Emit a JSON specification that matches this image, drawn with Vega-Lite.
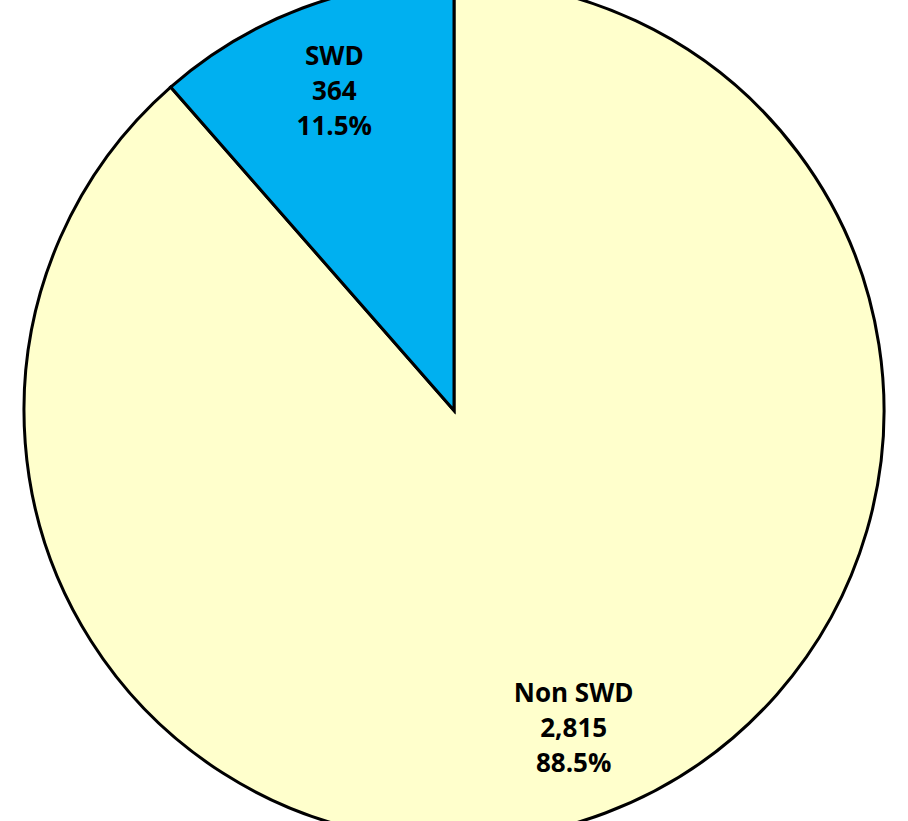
{
  "$schema": "https://vega.github.io/schema/vega-lite/v6.json",
  "width": 908,
  "height": 821,
  "autosize": {"type": "fit", "contains": "padding"},
  "padding": 0,
  "background": "white",
  "view": {"stroke": null},
  "data": {
    "values": [
      {"category": "Non SWD", "count": 2815, "pct": "88.5%", "order": 1},
      {"category": "SWD", "count": 364, "pct": "11.5%", "order": 2}
    ]
  },
  "transform": [
    {"calculate": "[datum.category, format(datum.count, ','), datum.pct]", "as": "label"}
  ],
  "encoding": {
    "theta": {"field": "count", "type": "quantitative", "stack": true},
    "order": {"field": "order", "type": "quantitative"}
  },
  "layer": [
    {
      "mark": {"type": "arc", "outerRadius": 430, "stroke": "black", "strokeWidth": 3, "strokeJoin": "miter"},
      "encoding": {
        "color": {
          "field": "category",
          "type": "nominal",
          "scale": {"domain": ["Non SWD", "SWD"], "range": ["#FFFFCC", "#00B0F0"]},
          "legend": null
        }
      }
    },
    {
      "mark": {"type": "text", "radius": 340, "dy": -35, "font": "Open Sans", "fontSize": 26, "fontWeight": "bold", "color": "black", "lineHeight": 35},
      "encoding": {
        "text": {"field": "label"}
      }
    }
  ]
}
